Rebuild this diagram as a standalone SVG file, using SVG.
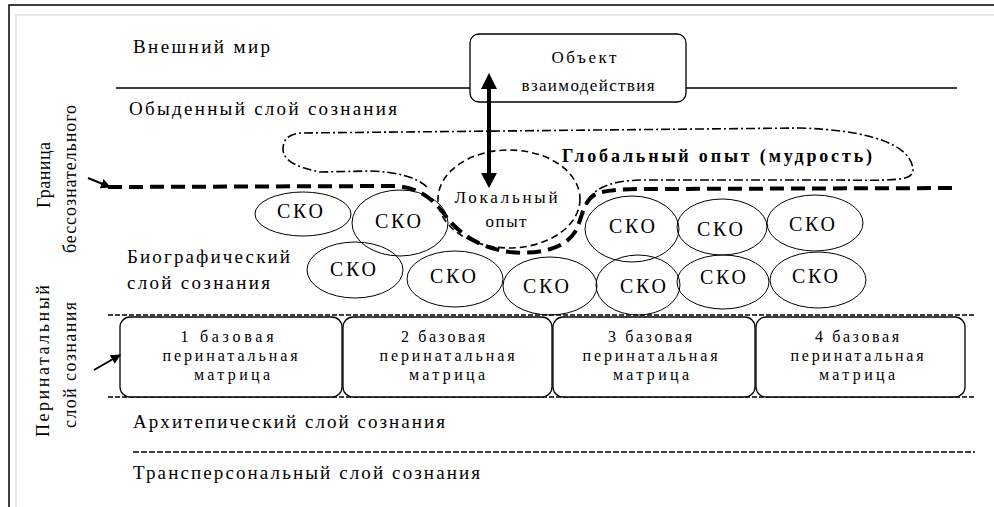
<svg xmlns="http://www.w3.org/2000/svg" width="994" height="507" viewBox="0 0 994 507" font-family="'Liberation Serif', 'DejaVu Serif', serif">
<style>
text{font-family:'Liberation Serif','DejaVu Serif','Times New Roman',serif;fill:#000}
.t{font-size:19px}
.m{font-size:17px}
.mx{font-size:16px}
.c{font-size:20px}
.v{font-size:18px}
.cko{fill:none;stroke:#000;stroke-width:1}
.box{fill:#fff;stroke:#000;stroke-width:1.3}
</style>
<defs>
<marker id="ah" viewBox="0 0 10 10" refX="9" refY="5" markerWidth="5" markerHeight="5" orient="auto-start-reverse">
<path d="M0,0 L10,5 L0,10 Z" fill="#000"/>
</marker>
</defs>
<rect width="994" height="507" fill="#fff"/>
<g id="frame">
<path d="M16,507 V15 H994" fill="none" stroke="#e8e8e8" stroke-width="2"/>
<path d="M9,507 V5 H994" fill="none" stroke="#000" stroke-width="1.5"/>
</g>
<g id="layers">
<line x1="116" y1="88" x2="470" y2="88" stroke="#000" stroke-width="1.3"/>
<line x1="686" y1="88" x2="957" y2="88" stroke="#000" stroke-width="1.3"/>
<line x1="108" y1="315" x2="975" y2="315" stroke="#000" stroke-width="1.5" stroke-dasharray="5 2"/>
<line x1="108" y1="397" x2="975" y2="397" stroke="#000" stroke-width="1.5" stroke-dasharray="5 2"/>
<line x1="133" y1="452" x2="975" y2="452" stroke="#000" stroke-width="1.5" stroke-dasharray="6 2"/>
</g>
<g id="labels">
<text class="t" x="133" y="53" textLength="137" lengthAdjust="spacing">Внешний мир</text>
<text class="t" x="129" y="115" textLength="268" lengthAdjust="spacing">Обыденный слой сознания</text>
<text class="t" x="127" y="263" textLength="163" lengthAdjust="spacing">Биографический</text>
<text class="t" x="127" y="289" textLength="143" lengthAdjust="spacing">слой сознания</text>
<text class="t" x="133" y="428" textLength="312" lengthAdjust="spacing">Архитепический слой сознания</text>
<text class="t" x="133" y="479" textLength="347" lengthAdjust="spacing">Трансперсональный слой сознания</text>
<text class="v" transform="translate(50,175) rotate(-90)" text-anchor="middle" textLength="66" lengthAdjust="spacing">Граница</text>
<text class="v" transform="translate(76,179) rotate(-90)" text-anchor="middle" textLength="148" lengthAdjust="spacing">бессознательного</text>
<text class="v" transform="translate(49,361) rotate(-90)" text-anchor="middle" textLength="152" lengthAdjust="spacing">Перинатальный</text>
<text class="v" transform="translate(76,365) rotate(-90)" text-anchor="middle" textLength="126" lengthAdjust="spacing">слой сознания</text>
</g>
<g id="object">
<rect class="box" x="470" y="34" width="216" height="68" rx="9"/>
<text class="m" x="584" y="63" text-anchor="middle" textLength="65" lengthAdjust="spacing">Объект</text>
<text class="m" x="588" y="91" text-anchor="middle" textLength="133" lengthAdjust="spacing">взаимодействия</text>
</g>
<g id="sko">
<ellipse class="cko" cx="303" cy="214" rx="48" ry="22"/>
<ellipse class="cko" cx="400" cy="223" rx="48" ry="33"/>
<ellipse class="cko" cx="355" cy="270" rx="48" ry="28"/>
<ellipse class="cko" cx="455" cy="279" rx="48" ry="28"/>
<ellipse class="cko" cx="550" cy="286" rx="47" ry="29"/>
<ellipse class="cko" cx="638" cy="285" rx="42" ry="30"/>
<ellipse class="cko" cx="632" cy="229" rx="47" ry="33"/>
<ellipse class="cko" cx="722" cy="227" rx="45" ry="28"/>
<ellipse class="cko" cx="815" cy="223" rx="48" ry="28"/>
<ellipse class="cko" cx="723" cy="282" rx="46" ry="27"/>
<ellipse class="cko" cx="818" cy="280" rx="48" ry="28"/>
<text class="c" x="300" y="218" text-anchor="middle" textLength="46" lengthAdjust="spacing">СКО</text>
<text class="c" x="398" y="228" text-anchor="middle" textLength="46" lengthAdjust="spacing">СКО</text>
<text class="c" x="353" y="276" text-anchor="middle" textLength="46" lengthAdjust="spacing">СКО</text>
<text class="c" x="453" y="283" text-anchor="middle" textLength="46" lengthAdjust="spacing">СКО</text>
<text class="c" x="546" y="293" text-anchor="middle" textLength="46" lengthAdjust="spacing">СКО</text>
<text class="c" x="643" y="293" text-anchor="middle" textLength="46" lengthAdjust="spacing">СКО</text>
<text class="c" x="632" y="233" text-anchor="middle" textLength="46" lengthAdjust="spacing">СКО</text>
<text class="c" x="720" y="236" text-anchor="middle" textLength="46" lengthAdjust="spacing">СКО</text>
<text class="c" x="812" y="231" text-anchor="middle" textLength="46" lengthAdjust="spacing">СКО</text>
<text class="c" x="723" y="284" text-anchor="middle" textLength="46" lengthAdjust="spacing">СКО</text>
<text class="c" x="815" y="283" text-anchor="middle" textLength="46" lengthAdjust="spacing">СКО</text>
</g>
<g id="global">
<path d="M427,187 C415,176 395,172 370,171 L320,172 C300,168 284,162 283,150 C283,140 287,135 300,133 L800,128 C870,130 912,145 913,170 C912,180 900,181 840,180 L640,180 C610,181 592,188 586,205" fill="none" stroke="#000" stroke-width="1.6" stroke-dasharray="9 3 2 3"/>
<text x="717" y="162" text-anchor="middle" font-size="18" font-weight="bold" textLength="310" lengthAdjust="spacing">Глобальный опыт (мудрость)</text>
</g>
<g id="local">
<ellipse cx="509" cy="199" rx="71" ry="49" fill="none" stroke="#000" stroke-width="1.6" stroke-dasharray="7 4"/>
<text class="m" x="506" y="203" text-anchor="middle" textLength="103" lengthAdjust="spacing">Локальный</text>
<text class="m" x="506" y="227" text-anchor="middle" textLength="41" lengthAdjust="spacing">опыт</text>
</g>
<g id="matrix1">
<rect class="box" x="120" y="317" width="222" height="80" rx="10"/>
<text class="mx" x="227" y="342" text-anchor="middle" textLength="93" lengthAdjust="spacing">1 базовая</text>
<text class="mx" x="230" y="361" text-anchor="middle" textLength="135" lengthAdjust="spacing">перинатальная</text>
<text class="mx" x="232" y="380" text-anchor="middle" textLength="76" lengthAdjust="spacing">матрица</text>
</g>
<g id="matrix2">
<rect class="box" x="343" y="317" width="209" height="80" rx="10"/>
<text class="mx" x="443" y="342" text-anchor="middle" textLength="84" lengthAdjust="spacing">2 базовая</text>
<text class="mx" x="447" y="361" text-anchor="middle" textLength="135" lengthAdjust="spacing">перинатальная</text>
<text class="mx" x="447" y="380" text-anchor="middle" textLength="76" lengthAdjust="spacing">матрица</text>
</g>
<g id="matrix3">
<rect class="box" x="553" y="317" width="202" height="80" rx="10"/>
<text class="mx" x="650" y="342" text-anchor="middle" textLength="84" lengthAdjust="spacing">3 базовая</text>
<text class="mx" x="650" y="361" text-anchor="middle" textLength="135" lengthAdjust="spacing">перинатальная</text>
<text class="mx" x="651" y="380" text-anchor="middle" textLength="76" lengthAdjust="spacing">матрица</text>
</g>
<g id="matrix4">
<rect class="box" x="756" y="317" width="209" height="80" rx="10"/>
<text class="mx" x="857" y="342" text-anchor="middle" textLength="84" lengthAdjust="spacing">4 базовая</text>
<text class="mx" x="857" y="361" text-anchor="middle" textLength="133" lengthAdjust="spacing">перинатальная</text>
<text class="mx" x="857" y="380" text-anchor="middle" textLength="76" lengthAdjust="spacing">матрица</text>
</g>
<g id="connectors">
<path d="M108,187 L395,186 C415,187 430,195 445,215 C460,235 480,248 510,252 C540,255 565,248 575,232 C583,218 582,200 598,193 C612,189 630,189 650,189 L958,188" fill="none" stroke="#000" stroke-width="4" stroke-dasharray="14 7"/>
<line x1="489" y1="86" x2="489" y2="174" stroke="#000" stroke-width="4"/>
<polygon points="489,73 481,89 497,89" fill="#000"/>
<polygon points="489,188 481,173 497,173" fill="#000"/>
<line x1="88" y1="178" x2="110" y2="187" stroke="#000" stroke-width="2" marker-end="url(#ah)"/>
<line x1="94" y1="370" x2="120" y2="355" stroke="#000" stroke-width="2" marker-end="url(#ah)"/>
</g>
</svg>
